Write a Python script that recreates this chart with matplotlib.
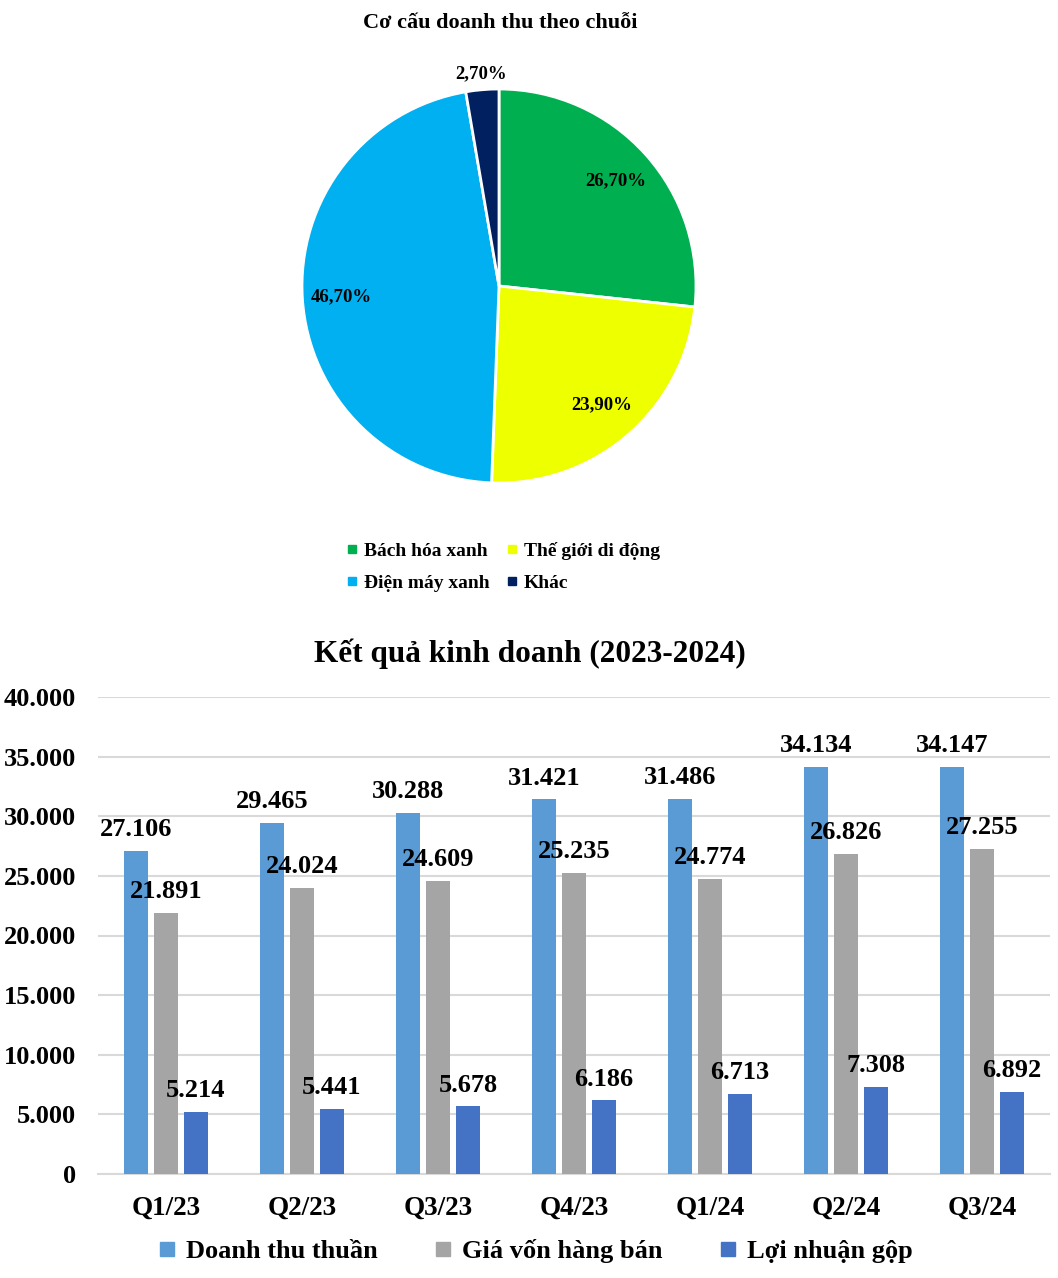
import matplotlib
matplotlib.use("Agg")
import matplotlib.pyplot as plt
import numpy as np
from matplotlib.lines import Line2D

plt.rcParams['font.family'] = ['Liberation Serif', 'DejaVu Serif']
plt.rcParams['font.weight'] = 'bold'

# ---- data ----
pie_labels = ["Bách hóa xanh", "Thế giới di động", "Điện máy xanh", "Khác"]
pie_values = [26.7, 23.9, 46.7, 2.7]
pie_colors = ["#00B050", "#EEFF00", "#00B0F0", "#002060"]

quarters = ["Q1/23", "Q2/23", "Q3/23", "Q4/23", "Q1/24", "Q2/24", "Q3/24"]
doanh_thu = [27106, 29465, 30288, 31421, 31486, 34134, 34147]
gia_von = [21891, 24024, 24609, 25235, 24774, 26826, 27255]
loi_nhuan = [5214, 5441, 5678, 6186, 6713, 7308, 6892]
series_names = ["Doanh thu thuần", "Giá vốn hàng bán", "Lợi nhuận gộp"]
series_colors = ["#5B9BD5", "#A5A5A5", "#4472C4"]

W, H = 1058, 1278
fig = plt.figure(figsize=(W / 100, H / 100), dpi=100)

def fx(px):
    return px / W

def fy(py):
    return 1 - py / H

# ---- pie ----
cx, cy, r = 499, 286, 197
half = 1.2 * r
axp = fig.add_axes([fx(cx - half), fy(cy + half), 2 * half / W, 2 * half / H])
wedges, texts = axp.pie(
    pie_values, colors=pie_colors, startangle=90, counterclock=False,
    wedgeprops=dict(edgecolor="white", linewidth=2))
axp.set_xlim(-1.2, 1.2)
axp.set_ylim(-1.2, 1.2)
axp.set_aspect("equal")
axp.axis("off")
for w, v in zip(wedges, pie_values):
    ang = np.deg2rad((w.theta1 + w.theta2) / 2)
    d = 1.08 if v < 5 else 0.8
    txt = f"{v:.2f}%".replace(".", ",")
    axp.text(d * np.cos(ang), d * np.sin(ang), txt, ha="center", va="center",
             fontsize=13.5, fontweight="bold", color="black")

fig.text(fx(500), fy(23), "Cơ cấu doanh thu theo chuỗi", ha="center", va="center",
         fontsize=16, fontweight="bold")

pie_handles = [Line2D([], [], marker="s", linestyle="none", markersize=6,
                      markerfacecolor=c, markeredgecolor=c) for c in pie_colors]
order = [0, 2, 1, 3]
fig.legend([pie_handles[i] for i in order], [pie_labels[i] for i in order],
           loc="center", bbox_to_anchor=(fx(503), fy(567)), ncol=2, frameon=False,
           prop=dict(size=14, weight="bold"), handlelength=0.6, handletextpad=0.3,
           columnspacing=0.85, labelspacing=0.75)

# ---- bar chart ----
axb = fig.add_axes([fx(98), fy(1174), fx(1050) - fx(98), fy(697) - fy(1174)])
x = np.arange(len(quarters))
width = 0.18
offs = [-0.22, 0.0, 0.22]
for vals, off, col, name in zip([doanh_thu, gia_von, loi_nhuan], offs, series_colors, series_names):
    bars = axb.bar(x + off, vals, width=width, color=col, label=name, zorder=3)
    for b, v in zip(bars, vals):
        axb.annotate(f"{v:,}".replace(",", "."),
                     (b.get_x() + b.get_width() / 2, v), xytext=(0, 7),
                     textcoords="offset points", ha="center", va="bottom",
                     fontsize=19, fontweight="bold", zorder=4)

axb.set_xlim(-0.5, len(quarters) - 0.5)
axb.set_ylim(0, 40000)
yt = np.arange(0, 40001, 5000)
axb.set_yticks(yt)
axb.set_yticklabels([f"{int(v):,}".replace(",", ".") for v in yt],
                    fontsize=19, fontweight="bold")
axb.set_xticks(x)
axb.set_xticklabels(quarters, fontsize=19.5, fontweight="bold")
axb.tick_params(axis="both", length=0)
axb.tick_params(axis="x", pad=16)
axb.tick_params(axis="y", pad=16)
axb.grid(axis="y", color="#D9D9D9", linewidth=1.5, zorder=0)
axb.set_axisbelow(True)
for s in ["top", "right", "left"]:
    axb.spines[s].set_visible(False)
axb.spines["bottom"].set_color("#D9D9D9")
axb.spines["bottom"].set_linewidth(1.5)

fig.text(fx(530), fy(654), "Kết quả kinh doanh (2023-2024)", ha="center", va="center",
         fontsize=22.5, fontweight="bold")

bar_handles = [Line2D([], [], marker="s", linestyle="none", markersize=10,
                      markerfacecolor=c, markeredgecolor=c) for c in series_colors]
fig.legend(bar_handles, series_names, loc="center", bbox_to_anchor=(fx(536), fy(1251)),
           ncol=3, frameon=False, prop=dict(size=19, weight="bold"),
           handlelength=0.6, handletextpad=0.4, columnspacing=2.2)

fig.savefig("out.png", dpi=100, facecolor="white")
